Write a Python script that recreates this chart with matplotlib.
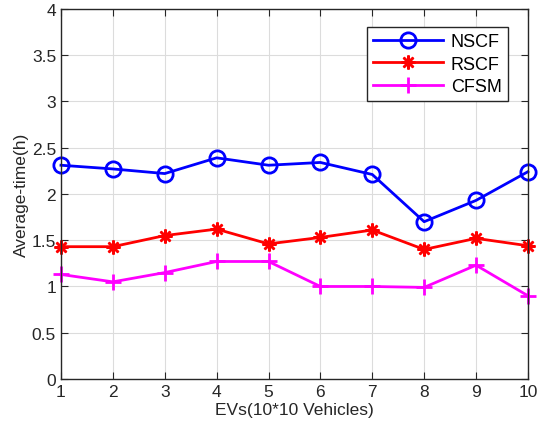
import matplotlib
matplotlib.use("Agg")
import matplotlib.pyplot as plt

plt.rcParams['font.family'] = ['Liberation Sans', 'DejaVu Sans']

x = [1, 2, 3, 4, 5, 6, 7, 8, 9, 10]
nscf = [2.31, 2.27, 2.22, 2.39, 2.31, 2.34, 2.21, 1.70, 1.93, 2.24]
rscf = [1.43, 1.43, 1.55, 1.62, 1.46, 1.53, 1.61, 1.40, 1.52, 1.44]
cfsm = [1.13, 1.05, 1.15, 1.27, 1.27, 1.00, 1.00, 0.99, 1.23, 0.90]
yticks = [0, 0.5, 1, 1.5, 2, 2.5, 3, 3.5, 4]
ytick_labels = ['0', '0.5', '1', '1.5', '2', '2.5', '3', '3.5', '4']

fig = plt.figure(figsize=(5.42, 4.27), dpi=100)
ax = fig.add_axes([0.1125, 0.110, 0.8615, 0.867])

ax.plot(x, nscf, color='#0000ff', lw=2, marker='o', ms=11, mfc='none', mew=2, label='NSCF', clip_on=False)
ax.plot(x, rscf, color='#ff0000', lw=2, marker=(8, 2, 0), ms=10, mew=1.8, label='RSCF', clip_on=False)
ax.plot(x, cfsm, color='#ff00ff', lw=2, marker='+', ms=12, mew=2, label='CFSM', clip_on=False)

ax.set_xlim(1, 10)
ax.set_ylim(0, 4)
ax.set_xticks(x)
ax.set_yticks(yticks)
ax.set_yticklabels(ytick_labels)
ax.grid(True, color='#dcdcdc', lw=0.8)
ax.set_axisbelow(True)
ax.tick_params(direction='in', top=True, right=True, labelsize=12.5, colors='#262626', length=5)
for s in ax.spines.values():
    s.set_color('#262626')
    s.set_linewidth(1)
ax.set_xlabel('EVs(10*10 Vehicles)', fontsize=12.5, color='#262626', labelpad=2)
ax.set_ylabel('Average-time(h)', fontsize=12.5, color='#262626', labelpad=2)

leg = ax.legend(loc='upper right', bbox_to_anchor=(0.957, 0.951), borderaxespad=0, fontsize=13,
                handlelength=3.9, fancybox=False, framealpha=1, edgecolor='#262626',
                borderpad=0.35, labelspacing=0.3, handletextpad=0.4)
leg.get_frame().set_linewidth(1)

fig.savefig('out.png', dpi=100)
